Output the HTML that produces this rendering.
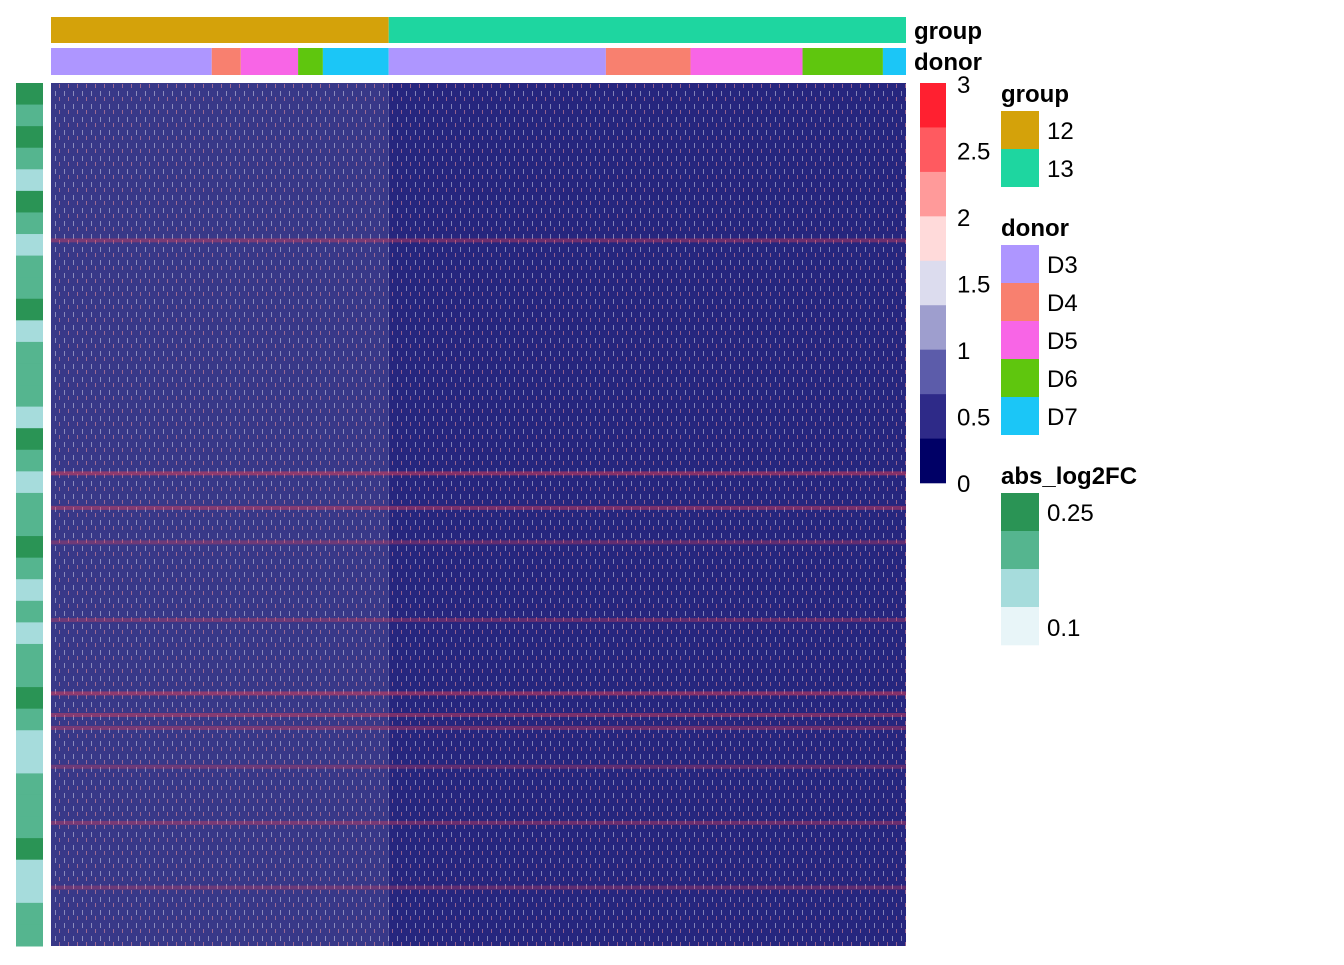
<!DOCTYPE html>
<html><head><meta charset="utf-8"><style>
body{margin:0;background:#fff;width:1344px;height:960px;overflow:hidden;font-family:"Liberation Sans",Arial,sans-serif}
svg text{font-family:"Liberation Sans",Arial,sans-serif}
</style></head><body>
<svg id="c" width="1344" height="960"></svg>
<script>
// Annotation data
const groupNames = ["12","13"];
const groupColors = ["#D4A20A","#1ED6A0"];
const groupSpans = [39.5, 60.5]; // % of columns
const donorNames = ["D3","D4","D5","D6","D7"];
const donorColors = ["#AE96FF","#F8806F","#F865E6","#5FC60E","#1BC6F7"];
const donorSeq = [0,1,2,3,4,0,1,2,3,4];
const donorSpans = [18.8,3.4,6.7,2.9,7.7,25.4,9.9,13.1,9.4,2.7]; // % of columns
// Colour scale
const scaleTicks = ["3","2.5","2","1.5","1","0.5","0"];
const scaleColors = ["#FF2030","#FF5A60","#FF9A9A","#FFDADA","#DCDCEE","#9E9ECE","#5C5CAA","#2E2A88","#000066"];
// Estimated average intensity per block (left group vs right group)
const blockMean = [0.55, 0.38];
// Row positions (fraction of heatmap height) with strong red rows, and their strength
const hotRows = [0.18,0.45,0.49,0.53,0.62,0.705,0.73,0.745,0.79,0.855,0.93];
const hotStrength = [0.6,0.8,0.7,0.5,0.5,0.8,0.7,0.6,0.5,0.6,0.5];
// Row annotation abs_log2FC stripes (fraction values 0..1 from top)
const fcColors = ["#2A9455","#55B58F","#A6DCDC","#E8F5F8"];
const fcRows = [0.2,0.4,0.3,0.5,0.7,0.3,0.6,0.8,0.4,0.5,0.3,0.9,0.5,0.4,0.6,0.7,0.3,0.5,0.8,0.6,0.4,0.2,0.6,0.7,0.5,0.9,0.4,0.6,0.3,0.5,0.7,0.8,0.5,0.4,0.6,0.3,0.7,0.8,0.5,0.6];

const NS="http://www.w3.org/2000/svg", svg=document.getElementById('c');
function mk(t,a,p){const e=document.createElementNS(NS,t);for(const k in a)e.setAttribute(k,a[k]);(p||svg).appendChild(e);return e;}
const X0=51,X1=906,Y0=83,Y1=946,W=X1-X0,H=Y1-Y0;
const xs=p=>X0+p/100*W;
// group bar
let acc=0;
groupSpans.forEach((s,i)=>{const r=mk('rect',{x:xs(acc),y:17,width:s/100*W,height:26,fill:groupColors[i]});

acc+=s;});
acc=0;
donorSpans.forEach((s,i)=>{const r=mk('rect',{x:xs(acc),y:48,width:s/100*W,height:27,fill:donorColors[donorSeq[i]]});

acc+=s;});
// heatmap body
function blend(v){const a=[0,0,102],b=[225,225,240];return `rgb(${a.map((c,i)=>Math.round(c+(b[i]-c)*v*0.45)).join(',')})`;}
acc=0;
groupSpans.forEach((s,i)=>{const r=mk('rect',{x:xs(acc),y:Y0,width:s/100*W,height:H,fill:blend(blockMean[i])});

acc+=s;});
// vertical speckle texture
const pat=mk('pattern',{id:'sp',width:9,height:13,patternUnits:'userSpaceOnUse'},mk('defs',{}));
mk('rect',{x:1,y:0,width:1,height:5,fill:'#dcdcee',opacity:0.5},pat);
mk('rect',{x:5,y:6,width:1,height:4,fill:'#ff9a9a',opacity:0.5},pat);
const tx=mk('rect',{x:X0,y:Y0,width:W,height:H,fill:'url(#sp)'});


hotRows.forEach((f,i)=>{const r=mk('rect',{x:X0,y:Y0+f*H,width:W,height:4,fill:'#ff4050',opacity:hotStrength[i]*0.55});

});
// row annotation
const rh=H/fcRows.length;
fcRows.forEach((v,i)=>{const idx=Math.min(3,Math.floor(v*3.2));const r=mk('rect',{x:16,y:Y0+i*rh,width:27,height:rh+0.5,fill:fcColors[idx]});

});
// labels
function txt(x,y,s,opt){const t=mk('text',Object.assign({x:x,y:y,'font-size':24,fill:'#000'},opt||{}));t.textContent=s;return t;}
let t=txt(914,39,'group',{'font-weight':'bold'});
t=txt(914,70,'donor',{'font-weight':'bold'});
// colour scale
const ch=400/scaleColors.length;
scaleColors.forEach((c,i)=>{const r=mk('rect',{x:920,y:83+i*ch,width:26,height:ch+0.3,fill:c});

});
scaleTicks.forEach((s,i)=>{const y=85+i*(399/6);const e=txt(957,y+8,s);

});
// legends
t=txt(1001,102,'group',{'font-weight':'bold'});
groupNames.forEach((g,i)=>{const r=mk('rect',{x:1001,y:111+i*38,width:38,height:38,fill:groupColors[i]});


const e=txt(1047,139+i*38,g);

});
t=txt(1001,236,'donor',{'font-weight':'bold'});
donorNames.forEach((g,i)=>{const r=mk('rect',{x:1001,y:245+i*38,width:38,height:38,fill:donorColors[i]});


const e=txt(1047,273+i*38,g);

});
t=txt(1001,484,'abs_log2FC',{'font-weight':'bold'});
fcColors.forEach((c,i)=>{const r=mk('rect',{x:1001,y:493+i*38,width:38,height:38.3,fill:c});

});
t=txt(1047,521,'0.25');
t=txt(1047,636,'0.1');
</script>
</body></html>
